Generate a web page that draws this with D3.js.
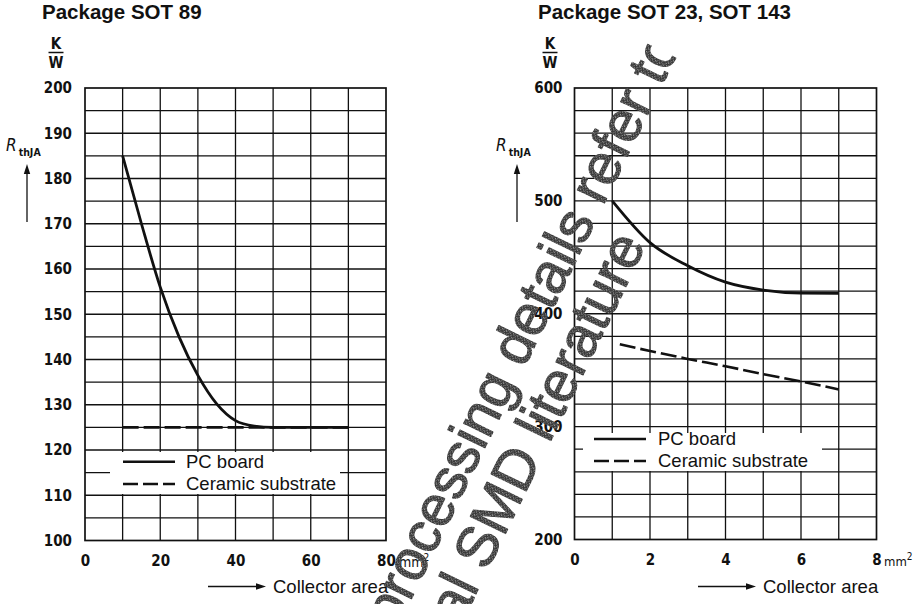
<!DOCTYPE html>
<html>
<head>
<meta charset="utf-8">
<script src="https://cdn.jsdelivr.net/npm/d3@7"></script>
<style>
  body { margin: 0; background: #fff; }
  svg { display: block; }
</style>
</head>
<body>
<div id="chart"></div>
<script>
// --- data ---
var sot89Area      = [10, 15, 20, 25, 30, 35, 40, 45, 50, 60, 70];
var sot89PcBoard   = [185, 170, 156, 145, 136.5, 130.2, 126.5, 125.3, 125, 125, 125];
var sot89CerArea   = [10, 70];
var sot89Ceramic   = [125, 125];
var sot89XTicks    = [0, 20, 40, 60, 80];
var sot89YTicks    = [100, 110, 120, 130, 140, 150, 160, 170, 180, 190, 200];

var sot23Area      = [1, 2, 3, 4, 5, 6, 7];
var sot23PcBoard   = [500, 463, 442.5, 428, 421, 418.3, 418];
var sot23CerArea   = [1.2, 2, 3, 4, 5, 6, 7];
var sot23Ceramic   = [373, 367, 360, 353.5, 346.5, 340, 333];
var sot23XTicks    = [0, 2, 4, 6, 8];
var sot23YTicks    = [200, 300, 400, 500, 600];

var seriesNames    = ['PC board', 'Ceramic substrate'];
var watermarkLines = ['processing details refer to', 'al SMD literature'];

var SANS = '"Liberation Sans", Arial, sans-serif';
var DIN = '"DejaVu Sans Condensed", "DejaVu Sans", sans-serif';
var INK = '#111';

var svg = d3.select('#chart').append('svg')
  .attr('width', 919)
  .attr('height', 604);

var defs = svg.append('defs');
var pat = defs.append('pattern')
  .attr('id', 'stipple')
  .attr('width', 4).attr('height', 4)
  .attr('patternUnits', 'userSpaceOnUse');
pat.append('rect').attr('width', 4).attr('height', 4).attr('fill', '#383838');
[[1, 0, '#9a9a9a'], [3, 1, '#777'], [0, 2, '#888'], [2, 3, '#a5a5a5'], [2, 1, '#555']].forEach(function(s){
  pat.append('rect').attr('x', s[0]).attr('y', s[1]).attr('width', 1).attr('height', 1).attr('fill', s[2]);
});

function zip(xs, ys){
  return xs.map(function(v, i){ return [v, ys[i]]; });
}

function arrow(g, x1, y1, x2, y2){
  var ang = Math.atan2(y2 - y1, x2 - x1);
  var len = 10, half = 3.2;
  var bx = x2 - len * Math.cos(ang), by = y2 - len * Math.sin(ang);
  g.append('line')
    .attr('x1', x1).attr('y1', y1).attr('x2', bx).attr('y2', by)
    .attr('stroke', INK).attr('stroke-width', 1.3);
  g.append('path')
    .attr('d', 'M' + x2 + ',' + y2 +
      'L' + (bx + half * Math.sin(ang)) + ',' + (by - half * Math.cos(ang)) +
      'L' + (bx - half * Math.sin(ang)) + ',' + (by + half * Math.cos(ang)) + 'Z')
    .attr('fill', INK);
}

function drawPanel(p){
  var g = svg.append('g');
  var x = d3.scaleLinear().domain(p.xDomain).range([p.left, p.right]);
  var y = d3.scaleLinear().domain(p.yDomain).range([p.bottom, p.top]);

  // title
  g.append('text')
    .attr('x', p.titleX).attr('y', 19)
    .attr('font-family', SANS).attr('font-weight', 'bold').attr('font-size', 20.5)
    .attr('fill', INK)
    .text(p.title);

  // unit K / W
  var u = g.append('g').attr('font-family', DIN).attr('font-size', 15)
    .attr('font-weight', 'bold').attr('fill', INK)
    .attr('text-anchor', 'middle');
  u.append('text').attr('x', p.unitX).attr('y', 49).text('K');
  u.append('line').attr('x1', p.unitX - 7.5).attr('x2', p.unitX + 7.5)
    .attr('y1', 52.5).attr('y2', 52.5).attr('stroke', INK).attr('stroke-width', 1.5);
  u.append('text').attr('x', p.unitX).attr('y', 68).text('W');

  // R thJA label
  var r = g.append('text').attr('x', p.rX).attr('y', 151).attr('fill', INK);
  r.append('tspan').attr('font-family', DIN).attr('font-style', 'italic')
    .attr('font-size', 17).text('R');
  r.append('tspan').attr('font-family', DIN).attr('font-weight', 'bold')
    .attr('font-size', 10.5).attr('dx', 2).attr('dy', 5).text('thJA');
  arrow(g, p.rX + 21, 222, p.rX + 21, 164);

  // grid
  g.selectAll('line.vgrid').data(p.xGrid).enter().append('line')
    .attr('x1', function(d){ return x(d); }).attr('x2', function(d){ return x(d); })
    .attr('y1', p.top).attr('y2', p.bottom)
    .attr('stroke', INK).attr('stroke-width', 1.3);
  g.selectAll('line.hgrid').data(p.yGrid).enter().append('line')
    .attr('x1', p.left).attr('x2', p.right)
    .attr('y1', function(d){ return y(d); }).attr('y2', function(d){ return y(d); })
    .attr('stroke', INK).attr('stroke-width', 1.3);
  g.append('rect')
    .attr('x', p.left).attr('y', p.top)
    .attr('width', p.right - p.left).attr('height', p.bottom - p.top)
    .attr('fill', 'none').attr('stroke', INK).attr('stroke-width', 1.7);

  // axes (labels only)
  var yAxis = g.append('g')
    .attr('transform', 'translate(' + p.left + ',0)')
    .call(d3.axisLeft(y).tickValues(p.yTicks).tickSize(0).tickPadding(p.yPad));
  var xAxis = g.append('g')
    .attr('transform', 'translate(0,' + p.bottom + ')')
    .call(d3.axisBottom(x).tickValues(p.xTicks).tickSize(0).tickPadding(15));
  [yAxis, xAxis].forEach(function(a){
    a.select('.domain').remove();
    a.attr('font-family', DIN).attr('font-size', 15).attr('font-weight', 'bold');
    a.selectAll('text').attr('fill', INK);
  });

  // mm² after the last x tick
  var unit = g.append('text')
    .attr('x', x(p.xDomain[1]) + p.mmDx).attr('y', p.bottom + 26)
    .attr('font-family', DIN).attr('fill', INK);
  unit.append('tspan').attr('font-size', p.mmSize).text('mm');
  unit.append('tspan').attr('font-size', 10).attr('dy', -6).text('2');

  // collector area
  arrow(g, p.caX, 586.5, p.caX + 58, 586.5);
  g.append('text')
    .attr('x', p.caX + 65).attr('y', 592.5)
    .attr('font-family', SANS).attr('font-size', 18.5).attr('fill', INK)
    .text('Collector area');

  // curves
  var line = d3.line()
    .x(function(d){ return x(d[0]); })
    .y(function(d){ return y(d[1]); })
    .curve(d3.curveMonotoneX);
  g.append('path').datum(zip(p.pcX, p.pcY))
    .attr('d', line).attr('fill', 'none')
    .attr('stroke', INK).attr('stroke-width', 2.8);
  g.append('path').datum(zip(p.cerX, p.cerY))
    .attr('d', line).attr('fill', 'none')
    .attr('stroke', INK).attr('stroke-width', 2.6)
    .attr('stroke-dasharray', '16,5');

  // legend
  var lg = g.append('g');
  lg.append('rect')
    .attr('x', p.legend.x0).attr('y', p.legend.y0)
    .attr('width', p.legend.x1 - p.legend.x0).attr('height', p.legend.y1 - p.legend.y0)
    .attr('fill', '#fff');
  seriesNames.forEach(function(name, i){
    var ly = p.legend.rows[i];
    lg.append('line')
      .attr('x1', p.legend.lineX).attr('x2', p.legend.lineX + 52)
      .attr('y1', ly).attr('y2', ly)
      .attr('stroke', INK).attr('stroke-width', 2.6)
      .attr('stroke-dasharray', i === 1 ? '15,5' : null);
    lg.append('text')
      .attr('x', p.legend.textX).attr('y', ly + 6)
      .attr('font-family', SANS).attr('font-size', 18.5).attr('fill', INK)
      .text(name);
  });
}

drawPanel({
  title: 'Package SOT 89', titleX: 42, unitX: 56, rX: 6,
  xDomain: [0, 80], yDomain: [100, 200],
  left: 85, right: 386, top: 88, bottom: 540.5,
  xGrid: d3.range(10, 80, 10), yGrid: d3.range(105, 200, 5),
  xTicks: sot89XTicks, yTicks: sot89YTicks, yPad: 13,
  mmDx: 13, mmSize: 14, caX: 208,
  pcX: sot89Area, pcY: sot89PcBoard, cerX: sot89CerArea, cerY: sot89Ceramic,
  legend: { x0: 110, x1: 340, y0: 452, y1: 494, lineX: 123, textX: 186, rows: [461.7, 484] }
});

drawPanel({
  title: 'Package SOT 23, SOT 143', titleX: 538, unitX: 550, rX: 496,
  xDomain: [0, 8], yDomain: [200, 600],
  left: 574.5, right: 876.5, top: 88, bottom: 539.5,
  xGrid: d3.range(1, 8, 1), yGrid: d3.range(220, 600, 20),
  xTicks: sot23XTicks, yTicks: sot23YTicks, yPad: 12,
  mmDx: 7.5, mmSize: 13, caX: 698,
  pcX: sot23Area, pcY: sot23PcBoard, cerX: sot23CerArea, cerY: sot23Ceramic,
  legend: { x0: 583, x1: 822, y0: 433, y1: 471, lineX: 594, textX: 658, rows: [439, 461] }
});

// diagonal stamp across both panels
var wmAngle = -64, wmSize = 57;
var rad = wmAngle * Math.PI / 180;
var dir = [Math.cos(rad), Math.sin(rad)], nrm = [-Math.sin(rad), Math.cos(rad)];
var wmStart = [373.4 + nrm[0] * 17, 619.8 + nrm[1] * 17];
var wm = svg.append('g');
watermarkLines.forEach(function(txt, i){
  var along = i === 0 ? 0 : 0.57 * wmSize;
  var off = i === 0 ? 8 : 64;
  var px = wmStart[0] + dir[0] * along + nrm[0] * off;
  var py = wmStart[1] + dir[1] * along + nrm[1] * off;
  var holder = wm.append('g')
    .attr('transform', 'translate(' + px + ',' + py + ') rotate(' + wmAngle + ')');
  var t = holder.append('text')
    .attr('font-family', SANS).attr('font-size', wmSize)
    .attr('fill', 'url(#stipple)')
    .attr('stroke', 'url(#stipple)').attr('stroke-width', 1.2)
    .attr('stroke-linejoin', 'round')
    .text(txt);
  if (i === 0) {
    // the stamp is cut off part-way through its last letter
    var cut = t.node().getSubStringLength(0, txt.length - 1) + 0.3 * wmSize;
    defs.append('clipPath').attr('id', 'wmclip')
      .append('rect').attr('x', -2000).attr('y', -200)
      .attr('width', 2000 + cut).attr('height', 400);
    t.attr('clip-path', 'url(#wmclip)');
  }
});
</script>
</body>
</html>
